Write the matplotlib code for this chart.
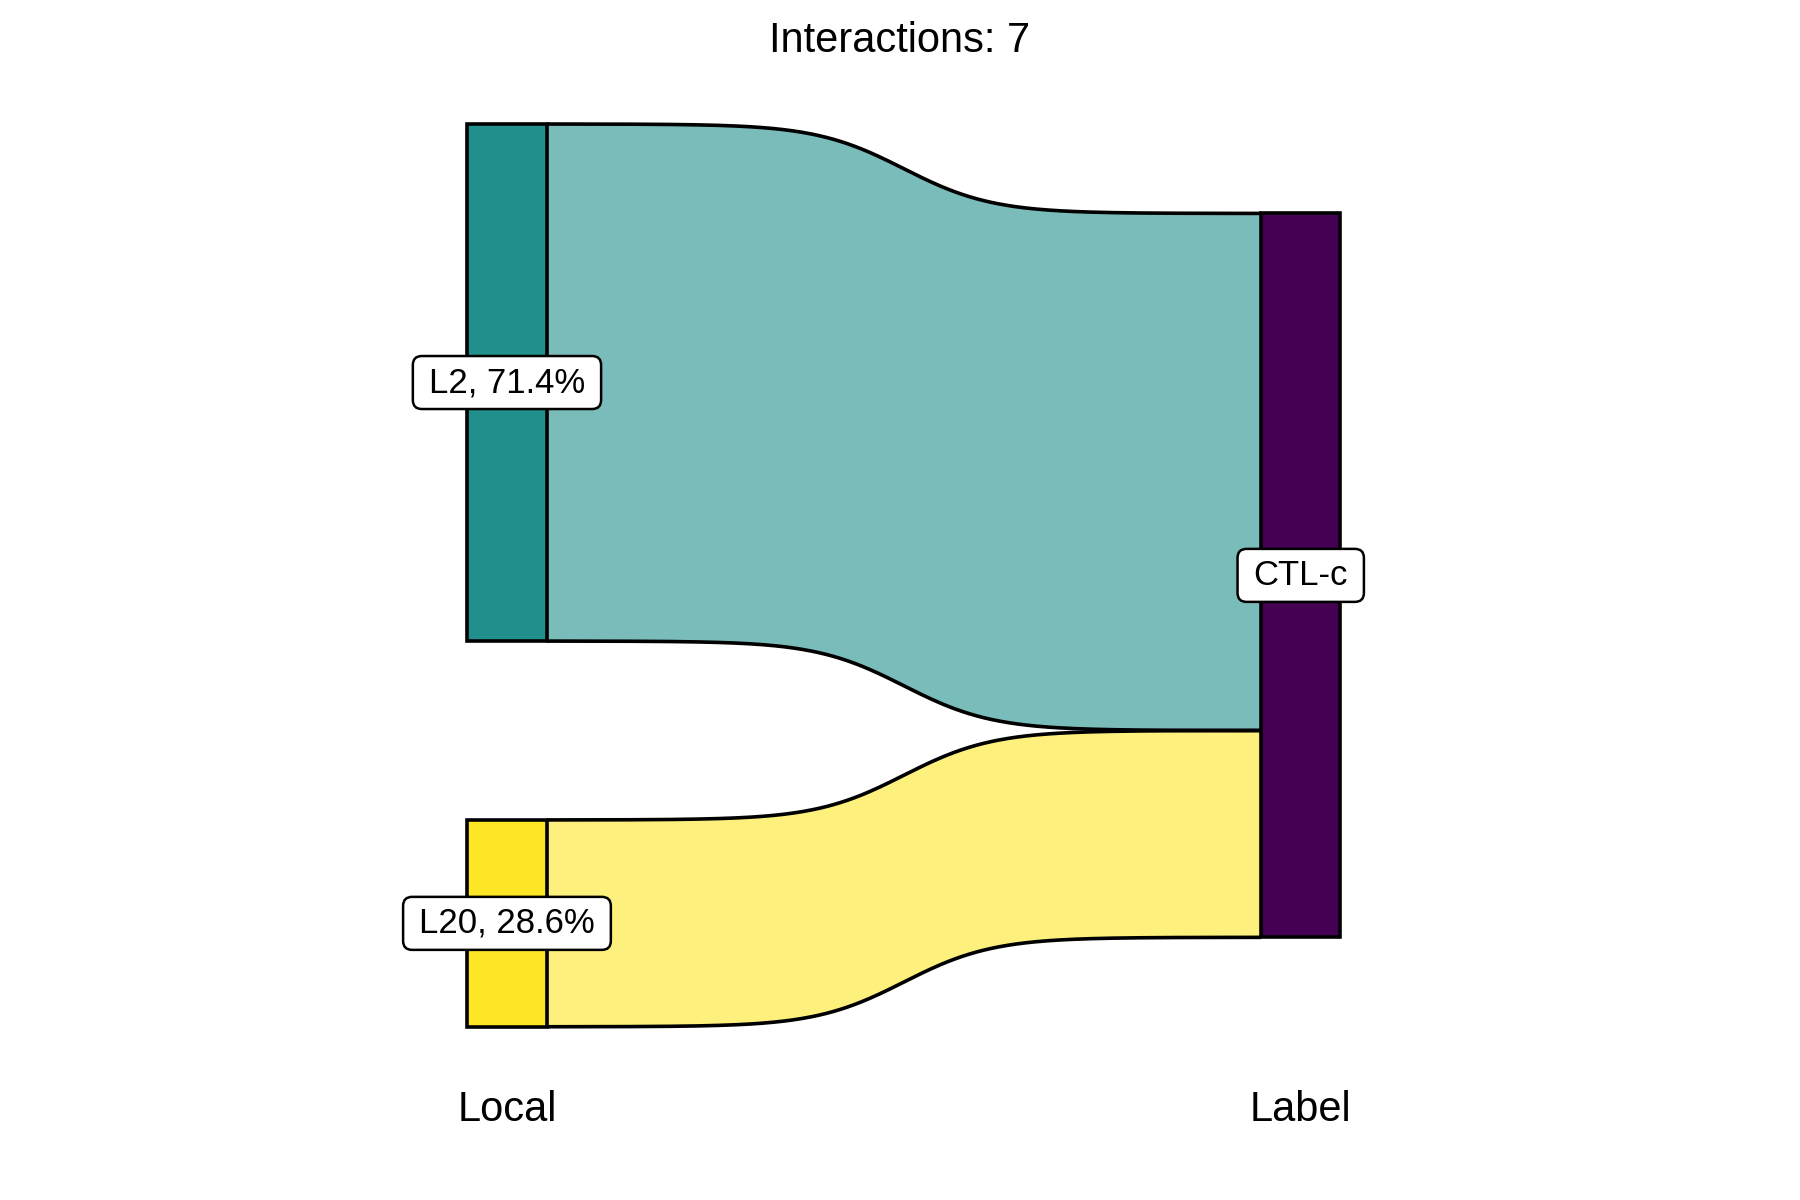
import numpy as np
import matplotlib
matplotlib.use("Agg")
import matplotlib.pyplot as plt
from matplotlib.patches import Rectangle, Polygon, FancyBboxPatch
from matplotlib.transforms import IdentityTransform

plt.rcParams['font.family'] = ['Liberation Sans', 'DejaVu Sans']

# ---- data ----
title = "Interactions: 7"
axis_names = ["Local", "Label"]
source_nodes = ["L2", "L20"]
source_counts = [5, 2]
target_nodes = ["CTL-c"]
target_counts = [7]
flows_src = ["L2", "L20"]
flows_tgt = ["CTL-c", "CTL-c"]
flows_val = [5, 2]
node_colors = {"L2": "#21908C", "L20": "#FDE725", "CTL-c": "#440154"}

# ---- layout ----
node_hw = 0.05
gap = 1.73
smooth = 8
LW = 2.6
total = sum(source_counts)
center = total / 2

fig = plt.figure(figsize=(18, 12), dpi=100)
ax = fig.add_axes([0, 0, 1, 1])
ax.set_xlim(0.3613, 2.629)
ax.set_ylim(-2.54, 9.064)
ax.set_autoscale_on(False)
ax.axis("off")

n_src = len(source_counts)
span = total + gap * (n_src - 1)
top = center + span / 2
src_pos = {}
y = top
for name, c in zip(source_nodes, source_counts):
    src_pos[name] = (y - c, y)
    y -= c + gap
tgt_pos = {}
t_total = sum(target_counts)
y = center + t_total / 2
for name, c in zip(target_nodes, target_counts):
    tgt_pos[name] = (y - c, y)
    y -= c

# flows
src_off = {k: v[1] for k, v in src_pos.items()}
tgt_off = {k: v[1] for k, v in tgt_pos.items()}
x_from, x_to = 1 + node_hw, 2 - node_hw
t = np.linspace(-smooth, smooth, 300)
s = np.exp(t) / (np.exp(t) + 1)
xs = (t + smooth) / (2 * smooth) * (x_to - x_from) + x_from
for sname, tname, v in zip(flows_src, flows_tgt, flows_val):
    s_top = src_off[sname]; s_bot = s_top - v
    t_top = tgt_off[tname]; t_bot = t_top - v
    src_off[sname] = s_bot
    tgt_off[tname] = t_bot
    ytop = s_top + (t_top - s_top) * s
    ybot = s_bot + (t_bot - s_bot) * s
    poly = np.vstack([np.column_stack([xs, ytop]), np.column_stack([xs[::-1], ybot[::-1]])])
    ax.add_patch(Polygon(poly, closed=True, facecolor=node_colors[sname], alpha=0.6,
                         edgecolor="none", zorder=1))
    ax.plot(xs, ytop, color="black", lw=LW, zorder=2, solid_capstyle="butt")
    ax.plot(xs, ybot, color="black", lw=LW, zorder=2, solid_capstyle="butt")

# nodes
labels = []
def draw_nodes(pos, x, counts_total, pct):
    for name, (y0, y1) in pos.items():
        ax.add_patch(Rectangle((x - node_hw, y0), 2 * node_hw, y1 - y0,
                               facecolor=node_colors[name], edgecolor="black", lw=LW, zorder=3))
        label = f"{name}, {100 * (y1 - y0) / counts_total:.1f}%" if pct else name
        labels.append(ax.text(x, (y0 + y1) / 2, label, ha="center", va="center",
                              fontsize=25, zorder=5))

draw_nodes(src_pos, 1, total, True)
draw_nodes(tgt_pos, 2, t_total, False)

for i, name in enumerate(axis_names):
    ax.text(i + 1, -1.67, name, ha="center", va="center", fontsize=30)

fig.text(0.5, 0.966, title, ha="center", va="center", fontsize=30)

# label boxes sized from the rendered text
fig.canvas.draw()
renderer = fig.canvas.get_renderer()
padx, pady = 16, 11
for txt in labels:
    bb = txt.get_window_extent(renderer)
    cy = (bb.y0 + bb.y1) / 2
    h = 31
    box = FancyBboxPatch((bb.x0 - padx, cy - h / 2 - pady), bb.width + 2 * padx, h + 2 * pady,
                         boxstyle="round,pad=0,rounding_size=9", transform=IdentityTransform(),
                         facecolor="white", edgecolor="black", lw=1.8, zorder=4)
    ax.add_artist(box)

fig.savefig("out.png", dpi=100)
